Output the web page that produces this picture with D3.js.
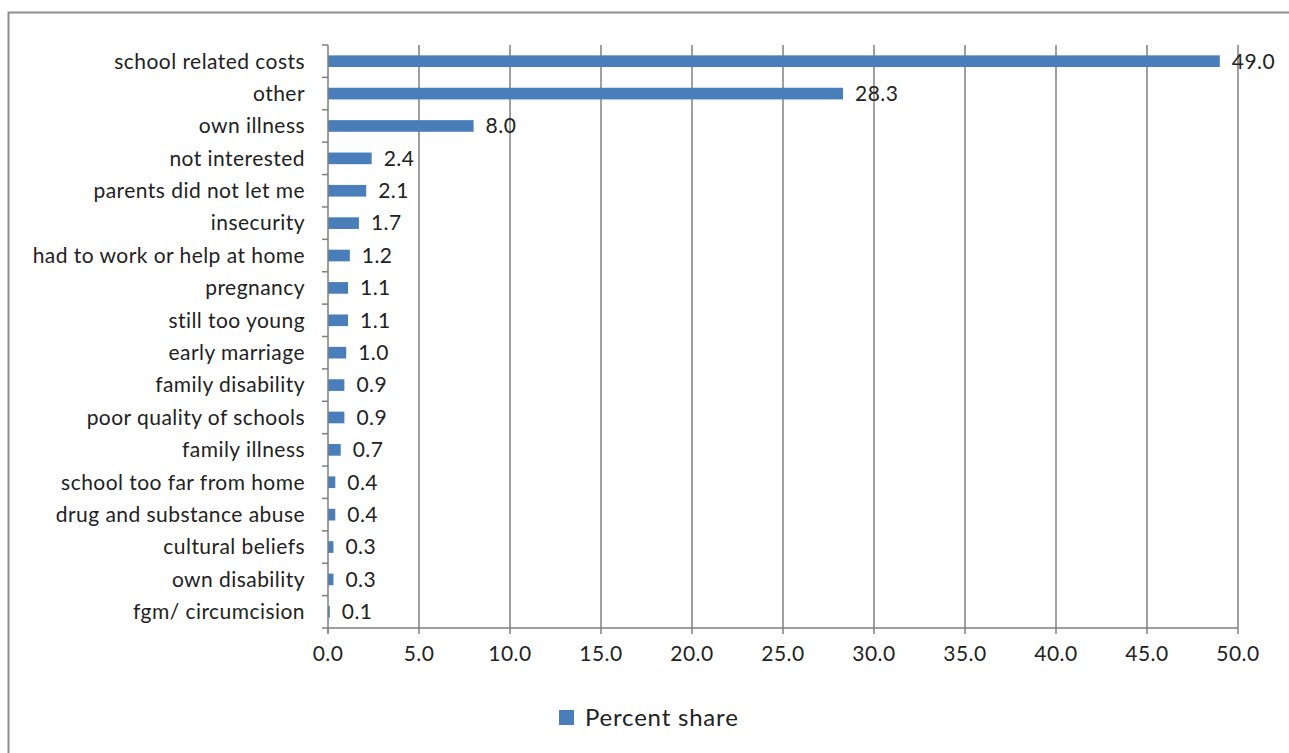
<!DOCTYPE html>
<html><head><meta charset="utf-8">
<script src="https://cdn.jsdelivr.net/npm/d3@7"></script>
<style>body{margin:0;background:#fff}svg{display:block}</style>
</head><body>
<script>
const categories = ["school related costs","other","own illness","not interested","parents did not let me","insecurity","had to work or help at home","pregnancy","still too young","early marriage","family disability","poor quality of schools","family illness","school too far from home","drug and substance abuse","cultural beliefs","own disability","fgm/ circumcision"];
const values = [49.0,28.3,8.0,2.4,2.1,1.7,1.2,1.1,1.1,1.0,0.9,0.9,0.7,0.4,0.4,0.3,0.3,0.1];
const xTicks = [0,5,10,15,20,25,30,35,40,45,50];
const seriesName = "Percent share";

(function () {
const W = 1289, H = 753;
const svg = d3.select("body").append("svg").attr("width", W).attr("height", H);
const font = "Lato, 'Open Sans', sans-serif";
const fs = 21, ls = "0.45px";

svg.append("rect").attr("x", 8.5).attr("y", 12.5).attr("width", 1300).attr("height", 760)
  .attr("fill", "#fff").attr("stroke", "#8c8c8c").attr("stroke-width", 2);

const pL = 328, pR = 1238, pT = 45, pB = 628;
const x = d3.scaleLinear().domain([0, 50]).range([pL, pR]);
const y = d3.scaleBand().domain(categories).range([pT, pB]).paddingInner(0.64).paddingOuter(0.32);
const yb = d3.scaleBand().domain(categories).range([pT, pB]);

// gridlines
svg.append("g").selectAll("line").data(xTicks.slice(1)).join("line")
  .attr("x1", d => x(d)).attr("x2", d => x(d)).attr("y1", pT).attr("y2", pB)
  .attr("stroke", "#7f7f7f").attr("stroke-width", 1.5);

// bars
svg.append("g").selectAll("rect").data(values).join("rect")
  .attr("x", x(0)).attr("y", (d, i) => y(categories[i]))
  .attr("width", d => x(d) - x(0)).attr("height", y.bandwidth())
  .attr("fill", "#4a7ebb");

// value labels
svg.append("g").selectAll("text").data(values).join("text")
  .attr("x", d => x(d) + 12).attr("y", (d, i) => yb(categories[i]) + yb.bandwidth() / 2)
  .attr("dy", "0.35em").attr("font-family", font).attr("font-size", fs).attr("letter-spacing", ls).attr("fill", "#222")
  .text(d => d.toFixed(1));

// y axis
const yAxis = svg.append("g");
yAxis.append("line").attr("x1", pL).attr("x2", pL).attr("y1", pT).attr("y2", pB + 5)
  .attr("stroke", "#7f7f7f").attr("stroke-width", 1.5);
yAxis.selectAll("line.t").data(categories).join("line").attr("class", "t")
  .attr("x1", pL - 6).attr("x2", pL).attr("y1", d => yb(d)).attr("y2", d => yb(d))
  .attr("stroke", "#7f7f7f").attr("stroke-width", 1.5);
yAxis.selectAll("text").data(categories).join("text")
  .attr("x", 305).attr("y", d => yb(d) + yb.bandwidth() / 2).attr("dy", "0.35em")
  .attr("text-anchor", "end").attr("font-family", font).attr("font-size", fs).attr("letter-spacing", ls).attr("fill", "#222")
  .text(d => d);

// x axis
const xAxis = svg.append("g");
xAxis.append("line").attr("x1", pL - 6).attr("x2", pR).attr("y1", pB).attr("y2", pB)
  .attr("stroke", "#7f7f7f").attr("stroke-width", 1.5);
xAxis.selectAll("line.t").data(xTicks).join("line").attr("class", "t")
  .attr("x1", d => x(d)).attr("x2", d => x(d)).attr("y1", pB).attr("y2", pB + 6)
  .attr("stroke", "#7f7f7f").attr("stroke-width", 1.5);
xAxis.selectAll("text").data(xTicks).join("text")
  .attr("x", d => x(d)).attr("y", 661).attr("text-anchor", "middle")
  .attr("font-family", font).attr("font-size", fs).attr("letter-spacing", ls).attr("fill", "#222")
  .text(d => d.toFixed(1));

// legend
const lg = svg.append("g");
lg.append("rect").attr("x", 559).attr("y", 710).attr("width", 15).attr("height", 15).attr("fill", "#4a7ebb");
lg.append("text").attr("x", 585).attr("y", 718).attr("dy", "0.35em")
  .attr("font-family", font).attr("font-size", 24).attr("letter-spacing", "0.8px").attr("fill", "#222").text(seriesName);
})();
</script>
</body></html>
